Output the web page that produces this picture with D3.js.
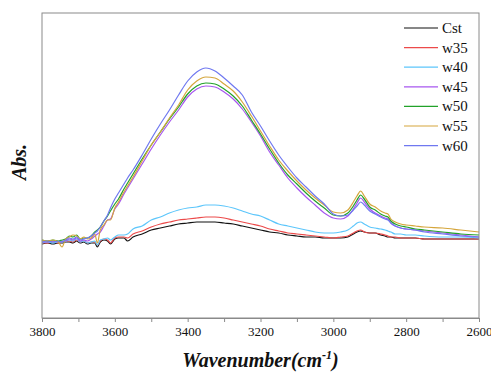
<!DOCTYPE html>
<html>
<head>
<meta charset="utf-8">
<script src="https://cdn.jsdelivr.net/npm/d3@7"></script>
<style>
  html, body { margin: 0; padding: 0; background: #fff; }
  svg { display: block; }
</style>
</head>
<body>
<svg id="chart" width="491" height="372"></svg>
<script>
// FTIR spectra, 3800–2600 cm-1 (absorbance, arbitrary offset)
const wavenumbers = [3800, 3785, 3770, 3755, 3745, 3735, 3725, 3715, 3705, 3695,
  3685, 3675, 3665, 3655, 3648, 3640, 3630, 3620, 3612, 3600,
  3590, 3575, 3565, 3550, 3525, 3500, 3475, 3450, 3425, 3400,
  3375, 3350, 3325, 3300, 3275, 3250, 3225, 3200, 3175, 3150,
  3125, 3100, 3075, 3050, 3025, 3000, 2980, 2960, 2945, 2935,
  2925, 2915, 2900, 2885, 2870, 2858, 2850, 2842, 2830, 2815,
  2800, 2775, 2750, 2700, 2650, 2600];

const seriesNames = ["Cst", "w35", "w40", "w45", "w50", "w55", "w60"];
const seriesColors = ["#111111", "#ec4a4a", "#5cc6fb", "#a757ef", "#22a22a", "#d5a63c", "#6f78f0"];

const absCst = [-0.002, -0.001, -0.002, -0.001, -0.001, 0.000, 0.000, -0.001, 0.001, -0.001,
  0.000, -0.002, -0.001, -0.001, -0.005, 0.000, 0.002, 0.001, -0.002, 0.003,
  0.004, 0.004, 0.001, 0.005, 0.008, 0.012, 0.014, 0.016, 0.018, 0.019,
  0.020, 0.020, 0.020, 0.019, 0.018, 0.016, 0.014, 0.012, 0.010, 0.009,
  0.007, 0.006, 0.005, 0.005, 0.004, 0.004, 0.004, 0.005, 0.008, 0.010,
  0.011, 0.010, 0.009, 0.009, 0.007, 0.006, 0.005, 0.005, 0.004, 0.004,
  0.004, 0.004, 0.003, 0.003, 0.003, 0.003];

const absW35 = [-0.001, -0.001, 0.000, -0.001, 0.000, 0.001, 0.001, 0.000, 0.002, 0.000,
  0.001, -0.001, 0.000, 0.000, -0.003, 0.001, 0.003, 0.002, -0.001, 0.004,
  0.005, 0.005, 0.004, 0.008, 0.011, 0.015, 0.018, 0.020, 0.022, 0.023,
  0.024, 0.025, 0.025, 0.024, 0.022, 0.020, 0.018, 0.016, 0.013, 0.011,
  0.009, 0.008, 0.007, 0.006, 0.005, 0.004, 0.005, 0.006, 0.009, 0.011,
  0.012, 0.010, 0.009, 0.009, 0.008, 0.007, 0.006, 0.005, 0.005, 0.004,
  0.004, 0.004, 0.003, 0.003, 0.003, 0.003];

const absW40 = [-0.001, 0.000, -0.001, 0.000, 0.000, 0.001, 0.002, 0.001, 0.003, 0.000,
  0.001, -0.001, 0.000, 0.001, -0.003, 0.002, 0.003, 0.004, 0.002, 0.005,
  0.007, 0.007, 0.008, 0.013, 0.016, 0.022, 0.025, 0.029, 0.032, 0.034,
  0.035, 0.037, 0.037, 0.036, 0.034, 0.031, 0.028, 0.026, 0.022, 0.018,
  0.016, 0.014, 0.012, 0.010, 0.009, 0.009, 0.010, 0.012, 0.016, 0.019,
  0.020, 0.018, 0.015, 0.014, 0.013, 0.012, 0.011, 0.010, 0.008, 0.008,
  0.007, 0.007, 0.006, 0.005, 0.005, 0.004];

const absW45 = [0.000, 0.000, 0.001, 0.000, 0.001, 0.001, 0.003, 0.002, 0.004, 0.001,
  0.002, 0.001, 0.003, 0.006, 0.008, 0.010, 0.016, 0.022, 0.023, 0.033,
  0.038, 0.048, 0.054, 0.063, 0.078, 0.093, 0.107, 0.120, 0.132, 0.145,
  0.153, 0.156, 0.155, 0.150, 0.143, 0.133, 0.120, 0.106, 0.090, 0.077,
  0.064, 0.054, 0.045, 0.037, 0.029, 0.024, 0.023, 0.026, 0.033, 0.039,
  0.044, 0.040, 0.033, 0.029, 0.026, 0.024, 0.023, 0.019, 0.016, 0.014,
  0.013, 0.012, 0.011, 0.009, 0.007, 0.005];

const absW50 = [0.002, 0.001, 0.002, 0.001, 0.002, 0.003, 0.006, 0.005, 0.007, 0.003,
  0.004, 0.004, 0.006, 0.010, 0.012, 0.015, 0.021, 0.026, 0.031, 0.038,
  0.043, 0.053, 0.059, 0.068, 0.083, 0.097, 0.110, 0.123, 0.135, 0.148,
  0.156, 0.159, 0.158, 0.153, 0.146, 0.136, 0.122, 0.108, 0.093, 0.079,
  0.067, 0.058, 0.049, 0.041, 0.034, 0.027, 0.026, 0.029, 0.036, 0.042,
  0.047, 0.043, 0.035, 0.032, 0.028, 0.026, 0.025, 0.021, 0.018, 0.016,
  0.015, 0.013, 0.012, 0.010, 0.008, 0.007];

const absW55 = [0.002, 0.001, 0.002, 0.000, -0.005, 0.003, 0.005, 0.007, 0.006, 0.003,
  0.005, 0.003, 0.004, 0.008, -0.001, 0.012, 0.017, 0.022, 0.022, 0.034,
  0.040, 0.050, 0.056, 0.065, 0.081, 0.097, 0.110, 0.124, 0.137, 0.152,
  0.161, 0.165, 0.164, 0.158, 0.151, 0.140, 0.126, 0.111, 0.096, 0.082,
  0.071, 0.061, 0.052, 0.044, 0.037, 0.030, 0.029, 0.032, 0.040, 0.046,
  0.051, 0.046, 0.038, 0.035, 0.031, 0.029, 0.028, 0.023, 0.020, 0.018,
  0.017, 0.016, 0.015, 0.014, 0.012, 0.010];

const absW60 = [0.000, 0.001, 0.000, 0.001, 0.000, 0.002, 0.004, 0.003, 0.005, 0.002,
  0.003, 0.004, 0.006, 0.009, 0.011, 0.015, 0.021, 0.027, 0.034, 0.043,
  0.049, 0.058, 0.064, 0.072, 0.087, 0.103, 0.118, 0.132, 0.147, 0.161,
  0.170, 0.174, 0.171, 0.164, 0.156, 0.147, 0.130, 0.116, 0.101, 0.087,
  0.075, 0.064, 0.055, 0.046, 0.038, 0.028, 0.026, 0.027, 0.032, 0.036,
  0.040, 0.037, 0.031, 0.028, 0.025, 0.023, 0.022, 0.019, 0.016, 0.014,
  0.013, 0.012, 0.010, 0.008, 0.006, 0.005];

const seriesValues = [absCst, absW35, absW40, absW45, absW50, absW55, absW60];

const xTickValues = [3800, 3600, 3400, 3200, 3000, 2800, 2600];
const xMinorTicks = [3700, 3500, 3300, 3100, 2900, 2700];

const serif = "'Liberation Serif', 'Times New Roman', serif";

const svg = d3.select("#chart");
const plot = { left: 42, right: 479, top: 13, bottom: 318 };

const x = d3.scaleLinear().domain([3800, 2600]).range([plot.left, plot.right]);
const y = d3.scaleLinear().domain([-0.076, 0.229]).range([plot.bottom, plot.top]);

const frameColor = "#8a8a8a";

// spectra
const line = d3.line()
  .x(d => x(d[0]))
  .y(d => y(d[1]))
  .curve(d3.curveMonotoneX);

const g = svg.append("g");
seriesNames.forEach((name, i) => {
  const pts = wavenumbers.map((w, k) => [w, seriesValues[i][k]]);
  g.append("path")
    .datum(pts)
    .attr("fill", "none")
    .attr("stroke", seriesColors[i])
    .attr("stroke-width", 1.2)
    .attr("stroke-linejoin", "round")
    .attr("d", line);
});

// frame
svg.append("rect")
  .attr("x", plot.left).attr("y", plot.top)
  .attr("width", plot.right - plot.left).attr("height", plot.bottom - plot.top)
  .attr("fill", "none").attr("stroke", frameColor).attr("stroke-width", 1);

// bottom axis with major and minor ticks
const xAxis = d3.axisBottom(x)
  .tickValues(xTickValues)
  .tickFormat(d3.format("d"))
  .tickSize(4)
  .tickPadding(5);

const axG = svg.append("g")
  .attr("transform", `translate(0,${plot.bottom})`)
  .call(xAxis)
  .attr("font-family", serif)
  .attr("font-size", 13);
axG.select(".domain").attr("stroke", frameColor);
axG.selectAll(".tick line").attr("stroke", frameColor);
axG.selectAll(".tick text")
  .attr("fill", "#111")
  .style("font-family", serif)
  .style("font-size", "13px");

const minorG = svg.append("g")
  .attr("transform", `translate(0,${plot.bottom})`)
  .call(d3.axisBottom(x).tickValues(xMinorTicks).tickSize(4).tickFormat(""));
minorG.select(".domain").remove();
minorG.selectAll(".tick line").attr("stroke", frameColor);

// axis titles
const xTitle = svg.append("text")
  .attr("x", (plot.left + plot.right) / 2)
  .attr("y", 367)
  .attr("text-anchor", "middle")
  .style("font-family", serif)
  .style("font-size", "20px")
  .style("font-weight", "bold")
  .style("font-style", "italic")
  .attr("fill", "#111");
xTitle.append("tspan").text("Wavenumber(cm");
xTitle.append("tspan").attr("dy", -8).style("font-size", "12px").text("-1");
xTitle.append("tspan").attr("dy", 8).text(")");

svg.append("text")
  .attr("transform", `translate(26,${162}) rotate(-90)`)
  .attr("text-anchor", "middle")
  .style("font-family", serif)
  .style("font-size", "20px")
  .style("font-weight", "bold")
  .style("font-style", "italic")
  .attr("fill", "#111")
  .text("Abs.");

// legend
const legend = svg.append("g");
seriesNames.forEach((name, i) => {
  const yy = 28 + i * 19.6;
  legend.append("line")
    .attr("x1", 404).attr("x2", 438)
    .attr("y1", yy).attr("y2", yy)
    .attr("stroke", seriesColors[i]).attr("stroke-width", 1.2);
  legend.append("text")
    .attr("x", 442).attr("y", yy + 5)
    .style("font-family", serif)
    .style("font-size", "15px")
    .attr("fill", "#111")
    .text(name);
});
</script>
</body>
</html>
